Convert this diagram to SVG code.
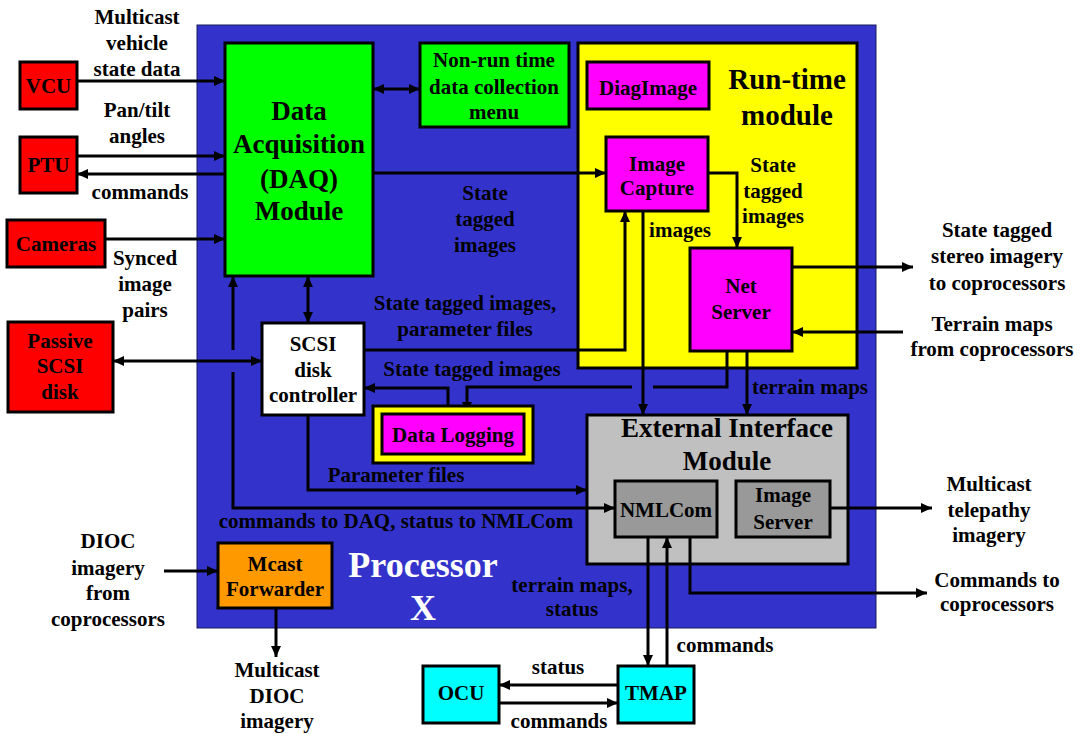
<svg xmlns="http://www.w3.org/2000/svg" width="1082" height="734" viewBox="0 0 1082 734">
<style>
text{font-family:"Liberation Serif","Times New Roman",serif;font-weight:bold;font-size:21px;fill:#000;text-anchor:middle}
.big{font-size:27px}
.title{font-size:29px}
.proc{font-size:36px;fill:#fff}
.box{stroke:#000;stroke-width:3}
.red{fill:#FF0000}.green{fill:#00FF00}.yellow{fill:#FFFF00}.mag{fill:#FF00FF}.cyan{fill:#00FFFF}.orange{fill:#FF9900}.white{fill:#fff}.lgray{fill:#C0C0C0}.dgray{fill:#999999}
.c{fill:none;stroke:#000;stroke-width:3}
.a{marker-end:url(#ah)}
.b{marker-start:url(#ah);marker-end:url(#ah)}
</style>
<defs>
<marker id="ah" markerUnits="userSpaceOnUse" markerWidth="12" markerHeight="10" refX="11" refY="5" orient="auto-start-reverse"><path d="M0,0 L11,5 L0,10 z" fill="#000"/></marker>
</defs>
<rect width="1082" height="734" fill="#fff"/>
<g id="processor">
<rect x="197" y="25" width="679" height="603" fill="#3333CC" stroke="#1a1a5a" stroke-width="1"/>
<text class="proc" x="423" y="577">Processor</text>
<text class="proc" x="423" y="620">X</text>
</g>
<g id="runtime">
<rect class="box yellow" x="578" y="43" width="279" height="325"/>
<text class="title" x="787" y="89">Run-time</text>
<text class="title" x="787" y="125">module</text>
</g>
<g id="extif">
<rect class="box lgray" x="587" y="415" width="261" height="149"/>
<text class="big" x="727" y="437">External Interface</text>
<text class="big" x="727" y="470">Module</text>
</g>
<g id="connectors">
<path class="c a" d="M77,81 H225"/>
<path class="c a" d="M77,156 H225"/>
<path class="c a" d="M225,174 H77"/>
<path class="c a" d="M105,239 H225"/>
<path class="c b" d="M113,361 H262"/>
<path class="c b" d="M373,89 H420"/>
<path class="c a" d="M373,173 H606"/>
<path class="c a" d="M708,173 H737 V248"/>
<path class="c a" d="M792,267 H913"/>
<path class="c a" d="M903,332 H792"/>
<path class="c a" d="M643,211 V415"/>
<path class="c a" d="M364,350 H625 V211"/>
<path class="c" d="M727,351 V387 H653"/>
<path class="c a" d="M632,387 H467 V413"/>
<path class="c a" d="M448,406 V388 H364"/>
<path class="c a" d="M747,351 V415"/>
<path class="c a" d="M308,415 V490 H587"/>
<path class="c b" d="M233,276 V350 M233,372 V508 H615"/>
<path class="c b" d="M308,276 V323"/>
<path class="c a" d="M830,508 H932"/>
<path class="c a" d="M690,537 V593 H927"/>
<path class="c a" d="M648,537 V666"/>
<path class="c a" d="M667,666 V537"/>
<path class="c a" d="M618,685 H499"/>
<path class="c a" d="M499,703 H618"/>
<path class="c a" d="M164,571 H218"/>
<path class="c a" d="M276,608 V657"/>
</g>
<g id="labels">
<text x="137" y="24">Multicast</text>
<text x="137" y="50">vehicle</text>
<text x="137" y="76">state data</text>
<text x="137" y="117">Pan/tilt</text>
<text x="137" y="143">angles</text>
<text x="140" y="199">commands</text>
<text x="145" y="265">Synced</text>
<text x="145" y="291">image</text>
<text x="145" y="317">pairs</text>
<text x="485" y="200">State</text>
<text x="485" y="226">tagged</text>
<text x="485" y="252">images</text>
<text x="773" y="172">State</text>
<text x="773" y="198">tagged</text>
<text x="773" y="223">images</text>
<text x="680" y="237">images</text>
<text x="997" y="237">State tagged</text>
<text x="997" y="263">stereo imagery</text>
<text x="997" y="290">to coprocessors</text>
<text x="992" y="331">Terrain maps</text>
<text x="992" y="356">from coprocessors</text>
<text x="465" y="310">State tagged images,</text>
<text x="465" y="336">parameter files</text>
<text x="472" y="376">State tagged images</text>
<text x="810" y="394">terrain maps</text>
<text x="396" y="482">Parameter files</text>
<text x="396" y="528">commands to DAQ, status to NMLCom</text>
<text x="989" y="491">Multicast</text>
<text x="989" y="517">telepathy</text>
<text x="989" y="542">imagery</text>
<text x="997" y="587">Commands to</text>
<text x="997" y="611">coprocessors</text>
<text x="108" y="548">DIOC</text>
<text x="108" y="575">imagery</text>
<text x="108" y="600">from</text>
<text x="108" y="626">coprocessors</text>
<text x="277" y="677">Multicast</text>
<text x="277" y="703">DIOC</text>
<text x="277" y="728">imagery</text>
<text x="572" y="592">terrain maps,</text>
<text x="572" y="616">status</text>
<text x="725" y="652">commands</text>
<text x="558" y="674">status</text>
<text x="559" y="728">commands</text>
</g>
<g id="vcu"><rect class="box red" x="20" y="62" width="57" height="47"/><text x="48.5" y="93">VCU</text></g>
<g id="ptu"><rect class="box red" x="20" y="137" width="57" height="56"/><text x="48.5" y="172">PTU</text></g>
<g id="cameras"><rect class="box red" x="7" y="220" width="98" height="47"/><text x="56" y="251">Cameras</text></g>
<g id="passive"><rect class="box red" x="8" y="322" width="105" height="90"/><text x="60" y="348">Passive</text><text x="60" y="373">SCSI</text><text x="60" y="399">disk</text></g>
<g id="daq"><rect class="box green" x="225" y="43" width="148" height="233"/>
<text class="big" x="299" y="120">Data</text><text class="big" x="299" y="153">Acquisition</text><text class="big" x="299" y="188">(DAQ)</text><text class="big" x="299" y="220">Module</text></g>
<g id="menu"><rect class="box green" x="420" y="43" width="149" height="84"/>
<text x="494" y="67">Non-run time</text><text x="494" y="94">data collection</text><text x="494" y="119">menu</text></g>
<g id="diagimage"><rect class="box mag" x="587" y="62" width="122" height="47"/><text x="648" y="95">DiagImage</text></g>
<g id="imagecapture"><rect class="box mag" x="606" y="137" width="102" height="74"/><text x="657" y="171">Image</text><text x="657" y="195">Capture</text></g>
<g id="netserver"><rect class="box mag" x="690" y="248" width="102" height="103"/><text x="741" y="293">Net</text><text x="741" y="319">Server</text></g>
<g id="scsi"><rect class="box white" x="262" y="323" width="102" height="92"/><text x="313" y="351">SCSI</text><text x="313" y="377">disk</text><text x="313" y="402">controller</text></g>
<g id="datalogging"><rect class="box yellow" x="373" y="406" width="160" height="57"/><rect class="box mag" x="382" y="414" width="142" height="40"/><text x="453" y="442">Data Logging</text></g>
<g id="nmlcom"><rect class="box dgray" x="615" y="481" width="102" height="56"/><text x="666" y="517">NMLCom</text></g>
<g id="imageserver"><rect class="box dgray" x="736" y="481" width="94" height="56"/><text x="783" y="502">Image</text><text x="783" y="529">Server</text></g>
<g id="mcast"><rect class="box orange" x="218" y="543" width="114" height="65"/><text x="275" y="571">Mcast</text><text x="275" y="596">Forwarder</text></g>
<g id="ocu"><rect class="box cyan" x="423" y="666" width="76" height="57"/><text x="461" y="700">OCU</text></g>
<g id="tmap"><rect class="box cyan" x="618" y="666" width="76" height="57"/><text x="656" y="700">TMAP</text></g>
</svg>
